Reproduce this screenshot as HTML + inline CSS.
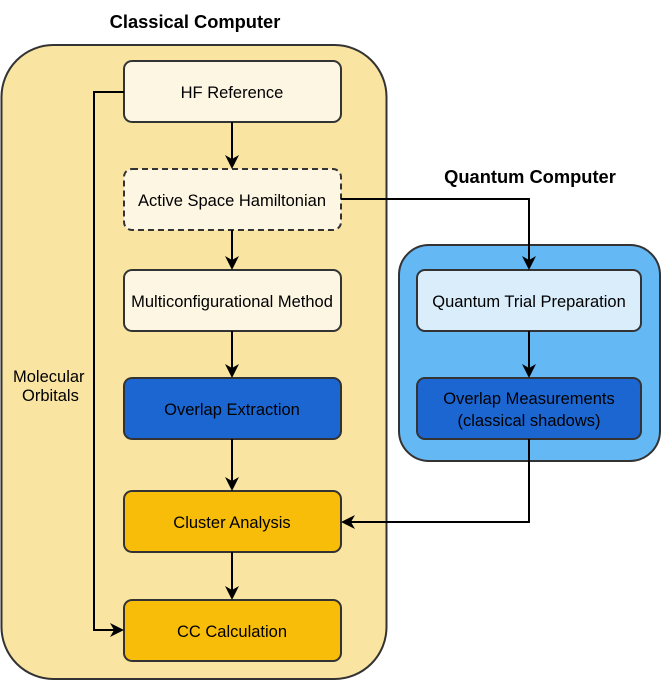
<!DOCTYPE html>
<html><head><meta charset="utf-8"><style>
html,body{margin:0;padding:0;background:#fff;}
svg text{font-family:"Liberation Sans",Arial,sans-serif;}
</style></head><body>
<svg width="665" height="683" viewBox="0 0 665 683" xmlns="http://www.w3.org/2000/svg">
<rect x="1.5" y="45" width="385" height="634" rx="52" fill="#f9e5a1" stroke="#333" stroke-width="2"/>
<text x="195" y="28" font-size="18.3" font-weight="bold" text-anchor="middle">Classical Computer</text>
<rect x="399" y="245" width="261" height="216" rx="30" fill="#64b8f4" stroke="#333" stroke-width="2"/>
<text x="530" y="183" font-size="18.3" font-weight="bold" text-anchor="middle">Quantum Computer</text>

<g stroke="#333" stroke-width="2">
<rect x="124" y="61" width="217" height="61" rx="8" fill="#fdf6e3"/>
<rect x="124" y="169" width="217" height="61" rx="8" fill="#fdf6e3" stroke-dasharray="6,4"/>
<rect x="124" y="270" width="217" height="61" rx="8" fill="#fdf6e3"/>
<rect x="124" y="378" width="217" height="61" rx="8" fill="#1c66d2"/>
<rect x="124" y="491" width="217" height="61" rx="8" fill="#f8bd08"/>
<rect x="124" y="600" width="217" height="61" rx="8" fill="#f8bd08"/>
<rect x="417" y="270" width="224" height="61" rx="8" fill="#d9edfb"/>
<rect x="417" y="378" width="224" height="61" rx="8" fill="#1c66d2"/>
</g>

<g fill="none" stroke="#000" stroke-width="2">
<line x1="232" y1="122" x2="232" y2="162"/>
<line x1="232" y1="230" x2="232" y2="263"/>
<line x1="232" y1="331" x2="232" y2="371"/>
<line x1="232" y1="439" x2="232" y2="484"/>
<line x1="232" y1="552" x2="232" y2="593"/>
<line x1="529" y1="331" x2="529" y2="371"/>
<polyline points="341,199 529,199 529,263"/>
<polyline points="529,439 529,522 348,522"/>
<polyline points="124,92 94,92 94,630 117,630"/>
</g>
<g fill="#000">
<path d="M232,169 l-7,-14 l7,4 l7,-4 z"/>
<path d="M232,270 l-7,-14 l7,4 l7,-4 z"/>
<path d="M232,378 l-7,-14 l7,4 l7,-4 z"/>
<path d="M232,491 l-7,-14 l7,4 l7,-4 z"/>
<path d="M232,600 l-7,-14 l7,4 l7,-4 z"/>
<path d="M529,378 l-7,-14 l7,4 l7,-4 z"/>
<path d="M529,270 l-7,-14 l7,4 l7,-4 z"/>
<path d="M341,522 l14,-7 l-4,7 l4,7 z"/>
<path d="M124,630 l-14,-7 l4,7 l-4,7 z"/>
</g>
<rect x="10" y="362" width="82" height="44" fill="#f9e5a1"/>
<g font-size="16.5">
<text x="13" y="382">Molecular</text>
<text x="22" y="401">Orbitals</text>
</g>
<g font-size="16.5" text-anchor="middle">
<text x="232" y="98">HF Reference</text>
<text x="232" y="206">Active Space Hamiltonian</text>
<text x="232" y="307">Multiconfigurational Method</text>
<text x="232" y="415">Overlap Extraction</text>
<text x="232" y="528">Cluster Analysis</text>
<text x="232" y="637">CC Calculation</text>
<text x="529" y="307">Quantum Trial Preparation</text>
<text x="529" y="404">Overlap Measurements</text>
<text x="529" y="426">(classical shadows)</text>
</g>
</svg>
</body></html>
